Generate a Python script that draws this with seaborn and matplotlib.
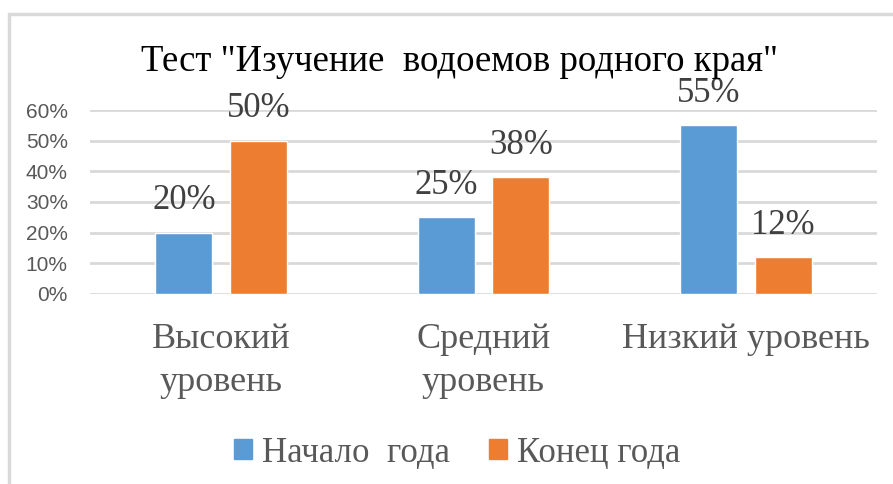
import matplotlib
matplotlib.use("Agg")
import matplotlib.pyplot as plt
import matplotlib.patches as mpatches
import seaborn as sns
import pandas as pd

categories = ["Высокий\nуровень", "Средний\nуровень", "Низкий уровень"]
series_names = ["Начало  года", "Конец года"]
start_values = [0.20, 0.25, 0.55]
end_values = [0.50, 0.38, 0.12]
y_ticks = [0.0, 0.1, 0.2, 0.3, 0.4, 0.5, 0.6]
y_tick_labels = ["0%", "10%", "20%", "30%", "40%", "50%", "60%"]
title = "Тест \"Изучение  водоемов родного края\""

colors = ["#5B9BD5", "#ED7D31"]
text_gray = "#595959"
grid_gray = "#D9D9D9"
serif = ["Liberation Serif", "DejaVu Serif"]
sans = ["Liberation Sans", "DejaVu Sans"]

df = pd.DataFrame({
    "category": categories * 2,
    "series": [series_names[0]] * 3 + [series_names[1]] * 3,
    "value": start_values + end_values,
})

sns.set_theme(style="white")
fig = plt.figure(figsize=(8.93, 4.84), dpi=100)
ax = fig.add_axes([0.1008, 0.3926, 0.8812, 0.3801])

sns.barplot(data=df, x="category", y="value", hue="series",
            palette=colors, width=0.568, gap=0.235, ax=ax,
            saturation=1, legend=False, errorbar=None)

ax.set_xlim(-0.5, 2.5)
ax.set_ylim(0, 0.6)
ax.set_yticks(y_ticks)
ax.set_yticklabels(y_tick_labels, fontfamily=sans, fontsize=15, color=text_gray)
ax.set_xticks(range(len(categories)))
ax.set_xticklabels(categories, fontfamily=serif, fontsize=26, color=text_gray,
                   linespacing=1.4)
ax.tick_params(axis="x", length=0, pad=21)
ax.tick_params(axis="y", length=0, pad=16)
ax.set_xlabel("")
ax.set_ylabel("")
ax.grid(axis="y", color=grid_gray, linewidth=2)
ax.set_axisbelow(True)
for s in ax.spines.values():
    s.set_visible(False)

# value labels above bars
for container, vals in zip(ax.containers, [start_values, end_values]):
    for bar, v in zip(container, vals):
        ax.annotate(f"{round(v * 100)}%",
                    (bar.get_x() + bar.get_width() / 2, bar.get_height()),
                    xytext=(0, 11), textcoords="offset points",
                    ha="center", va="bottom", fontfamily=serif,
                    fontsize=25, color="#404040", annotation_clip=False)

fig.text(0.514, 0.872, title, ha="center", va="center", fontfamily=serif,
         fontsize=26.5, color="#000000")

handles = [mpatches.Patch(color=c, label=n) for c, n in zip(colors, series_names)]
fig.legend(handles=handles, loc="center", bbox_to_anchor=(0.512, 0.064),
           ncol=2, frameon=False, prop={"family": serif, "size": 25},
           labelcolor=text_gray, handlelength=0.52, handleheight=0.52,
           handletextpad=0.3, columnspacing=1.1)

# outer chart border
fig.patches.append(mpatches.Rectangle((9 / 893, -0.05), 1.2, 1 - 14 / 484 + 0.05,
                                      transform=fig.transFigure, fill=False,
                                      edgecolor="#D9D9D9", linewidth=2.5))

fig.savefig("out.png", dpi=100)
